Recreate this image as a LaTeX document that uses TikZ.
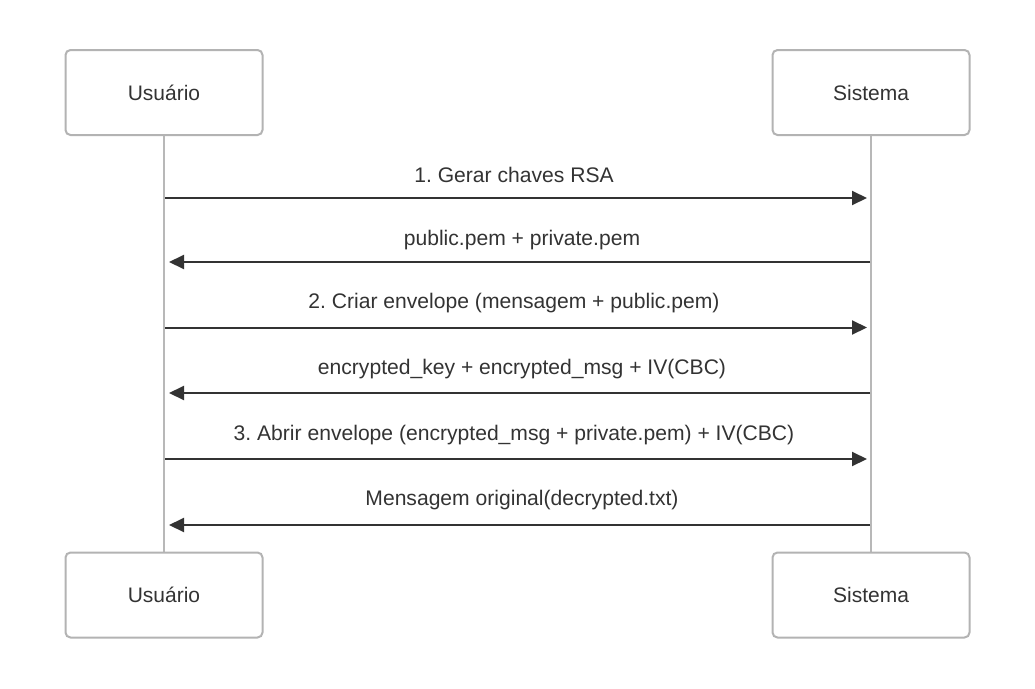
\documentclass[tikz,border=0pt]{standalone}
\usepackage{fontspec}
\setmainfont{Liberation Sans}
\usetikzlibrary{arrows.meta}
\definecolor{boxline}{HTML}{B3B3B3}
\definecolor{lifecol}{HTML}{B8B8B8}
\definecolor{ink}{HTML}{333333}
\frenchspacing
\begin{document}
\begin{tikzpicture}[x=1pt,y=-1pt,
  actor/.style={draw=boxline, line width=2pt, fill=white, rounded corners=5pt,
    minimum width=197pt, minimum height=85pt, inner sep=0pt,
    font=\fontsize{21}{24}\selectfont, text=ink},
  lifeline/.style={draw=lifecol, line width=2pt},
  msg/.style={draw=ink, line width=2pt, -{Triangle[length=15pt,width=14pt]}},
  lbl/.style={anchor=base, inner sep=0pt, font=\fontsize{21.1}{24}\selectfont, text=ink}]
\useasboundingbox (0,0) rectangle (1035,688);
\fill[white] (0,0) rectangle (1035,688);
% lifelines
\coordinate (ulT) at (164,136);
\coordinate (ulB) at (164,552);
\coordinate (slT) at (871,136);
\coordinate (slB) at (871,552);
\draw[lifeline] (ulT) -- (ulB);
\draw[lifeline] (slT) -- (slB);
% actors
\node[actor] (ut) at (164,92.5) {\raisebox{-1pt}{Usuário}};
\node[actor] (st) at (871,92.5) {\raisebox{-1pt}{Sistema}};
\node[actor] (ub) at (164,595) {\raisebox{-1pt}{Usuário}};
\node[actor] (sb) at (871,595) {\raisebox{-1pt}{Sistema}};
% message endpoints
\foreach \i/\y in {1/198,2/262,3/327.5,4/393,5/459,6/525}{
  \coordinate (u\i) at (165,\y);
  \coordinate (s\i) at (870,\y);
}
\draw[msg, shorten >=3pt] (u1) -- (s1);
\draw[msg, shorten >=4pt] (s2) -- (u2);
\draw[msg, shorten >=3pt] (u3) -- (s3);
\draw[msg, shorten >=4pt] (s4) -- (u4);
\draw[msg, shorten >=3pt] (u5) -- (s5);
\draw[msg, shorten >=4pt] (s6) -- (u6);
% labels
\node[lbl] (l1) at (514,182.5) {1. Gerar chaves RSA};
\node[lbl] (l2) at (522,245.5) {public.pem + private.pem};
\node[lbl] (l3) at (514,308.5) {2. Criar envelope (mensagem + public.pem)};
\node[lbl] (l4) at (522,374.5) {encrypted\_key + encrypted\_msg + IV(CBC)};
\node[lbl] (l5) at (514,440.5) {3. Abrir envelope (encrypted\_msg + private.pem) + IV(CBC)};
\node[lbl] (l6) at (522,505.5) {Mensagem original(decrypted.txt)};
\end{tikzpicture}
\end{document}
